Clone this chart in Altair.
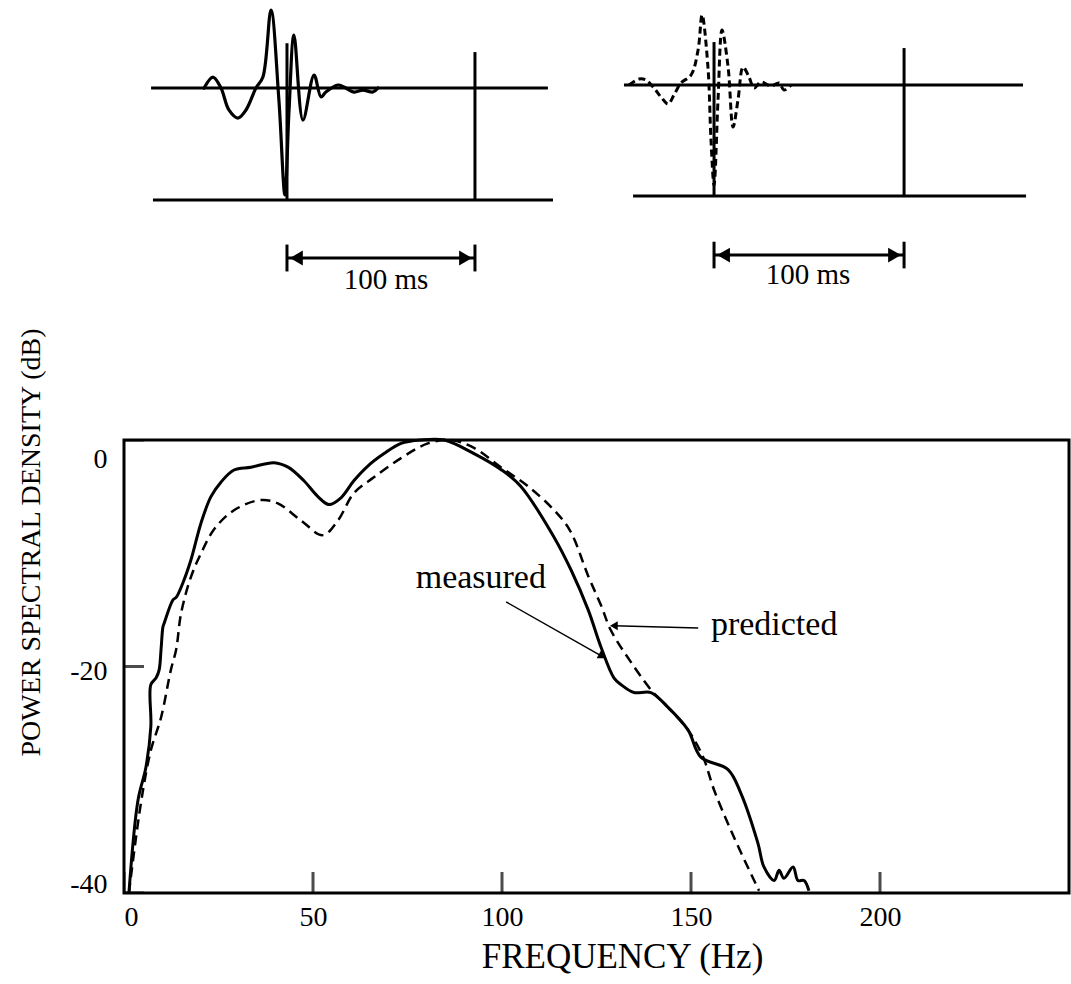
import altair as alt
import pandas as pd

FONT = "Liberation Serif"

# ---------------- main spectrum (Hz, dB) ----------------
meas_hz = [1.3, 3.7, 5.8, 7.1, 7.1, 8.5, 9.3, 9.8, 10.3, 10.6, 13.0, 13.8, 15.6, 17.7,
           20.4, 23.0, 25.7, 29.1, 33.6, 39.7, 43.4, 47.6, 51.3, 54.2, 57.4, 60.8,
           64.5, 68.8, 73.3, 78.5, 84.7, 92.6, 99.7, 105.0, 113.8, 118.3, 122.8,
           126.2, 129.6, 131.5, 134.9, 139.4, 143.9, 149.2, 152.6, 159.8, 163.2,
           167.7, 169.3, 172.0, 173.3, 174.6, 177.0, 178.3, 179.9, 181.2]
meas_db = [-40.0, -31.8, -28.9, -25.3, -21.6, -21.0, -20.3, -18.5, -16.5, -16.2, -14.1,
           -13.9, -12.6, -10.6, -7.3, -5.0, -3.7, -2.65, -2.4, -2.0, -2.4, -3.6, -5.0,
           -5.7, -5.1, -3.6, -2.3, -1.2, -0.3, 0.0, 0.0, -1.2, -2.6, -4.1, -8.6, -11.5,
           -15.0, -18.3, -21.0, -21.6, -22.3, -22.3, -23.6, -25.6, -28.0, -29.1, -31.2,
           -35.6, -37.7, -38.9, -38.0, -38.7, -37.7, -38.9, -38.9, -39.8]

pred_hz = [1.3, 4.5, 7.1, 9.8, 12.4, 13.8, 15.1, 17.7, 20.4, 23.8, 29.1, 36.2, 40.7,
           46.8, 52.6, 56.6, 60.8, 66.1, 73.3, 80.4, 86.5, 92.6, 99.7, 106.9, 113.8,
           118.0, 122.8, 126.2, 128.8, 134.9, 140.0, 143.9, 149.2, 153.2, 156.1,
           161.4, 168.0]
pred_db = [-40.0, -32.0, -27.4, -24.5, -20.3, -18.5, -15.3, -12.1, -10.0, -7.9, -6.2,
           -5.3, -5.6, -7.1, -8.4, -7.1, -4.7, -3.3, -1.6, -0.3, 0.0, -0.7, -2.4, -4.1,
           -6.2, -8.0, -12.0, -14.6, -16.8, -20.0, -22.3, -23.6, -25.6, -28.0, -30.9,
           -35.1, -39.8]

x_ticks = [0, 50, 100, 150, 200]
y_ticks = [0, -20, -40]

ann_labels = ["measured", "predicted"]
ann_hz = [94.4, 172.0]
ann_db = [-12.2, -16.3]
# arrow from label toward curve
arr_hz = [101.1, 151.9]
arr_db = [-14.3, -16.6]
arr_hz2 = [126.5, 129.6]
arr_db2 = [-19.1, -16.4]

# ---------------- insets (time ms, normalised amplitude) ----------------
left_t = [-44.1, -39.4, -35.1, -30.9, -26.1, -21.8, -16.5, -12.8, -8.5, -4.3, -1.1, 1.1,
          3.7, 8.5, 14.4, 18.1, 20.7, 27.1, 30.3, 35.6, 40.4, 45.7, 48.4]
left_a = [0.0, 0.098, 0.0, -0.196, -0.268, -0.196, 0.0, 0.098, 0.696, -0.107, -0.955,
          -0.196, 0.473, -0.286, 0.116, -0.080, -0.036, 0.027, 0.009, -0.036, -0.018,
          -0.036, 0.0]

right_t = [-44.7, -39.5, -35.8, -31.6, -27.9, -24.2, -21.1, -17.4, -12.1, -8.4, -6.3,
           -3.2, -1.6, 0.0, 2.1, 4.2, 7.4, 10.0, 12.6, 15.3, 18.4, 21.1, 24.7, 30.0,
           34.2, 36.8, 40.5]
right_a = [0.0, 0.054, 0.045, -0.027, -0.108, -0.171, -0.090, 0.018, 0.090, 0.315, 0.631,
           0.162, -0.495, -0.901, -0.135, 0.495, 0.162, -0.378, -0.135, 0.162, 0.072,
           -0.027, 0.027, -0.009, 0.018, -0.045, 0.0]

left_hline_t = [-72.3, -71.3]
left_hline_t2 = [138.8, 141.5]
right_hline_t = [-47.4, -42.6]
right_hline_t2 = [162.6, 164.2]
hline_a = [0.0, -1.0]

marker_t = [0, 100]
left_marker_top = [0.40, 0.321]
right_marker_top = [0.387, 0.333]

scale_bar_label = "100 ms"

# ---------------- main chart ----------------
xs = alt.Scale(domain=[0, 250], nice=False, zero=False)
ys = alt.Scale(domain=[-40, 0], nice=False, zero=False)

x_enc = alt.X("f:Q", scale=xs, axis=alt.Axis(
    values=x_ticks, ticks=False, domain=False, grid=False, labelPadding=10,
    labelFontSize=28, labelFont=FONT, labelColor="black",
    title="FREQUENCY (Hz)", titleFontSize=35, titleFont=FONT, titleFontWeight="normal",
    titleColor="black", titlePadding=8, titleX=498))
y_enc = alt.Y("db:Q", scale=ys, axis=alt.Axis(
    values=y_ticks, ticks=False, domain=False, grid=False, labelPadding=17,
    labelFlush=True, labelOffset=5, labelExpr="'' + datum.value",
    labelFontSize=28, labelFont=FONT, labelColor="black",
    title="POWER SPECTRAL DENSITY (dB)", titleFontSize=28, titleFont=FONT,
    titleFontWeight="normal", titleColor="black", titleAngle=270, titleX=-93,
    titleY=102, titleAlign="center", titleBaseline="middle"))

meas_df = pd.DataFrame({"f": meas_hz, "db": meas_db, "o": range(len(meas_hz))})
pred_df = pd.DataFrame({"f": pred_hz, "db": pred_db, "o": range(len(pred_hz))})

meas_line = alt.Chart(meas_df).mark_line(color="black", strokeWidth=3,
                                         interpolate="catmull-rom",
                                         strokeJoin="round").encode(
    x=x_enc, y=y_enc, order="o:Q")
pred_line = alt.Chart(pred_df).mark_line(color="black", strokeWidth=2.5,
                                         interpolate="catmull-rom",
                                         strokeDash=[10, 6]).encode(
    x="f:Q", y="db:Q", order="o:Q")

ytick_df = pd.DataFrame({"f": [0] * len(y_ticks), "db": y_ticks})
xtick_df = pd.DataFrame({"f": x_ticks, "db": [-40] * len(x_ticks)})
yticks = alt.Chart(ytick_df).mark_tick(orient="horizontal", size=40, thickness=3,
                                       color="black", clip=True).encode(x="f:Q", y="db:Q")
xticks = alt.Chart(xtick_df).mark_tick(orient="vertical", size=42, thickness=3,
                                       color="black", clip=True).encode(x="f:Q", y="db:Q")

ann_df = pd.DataFrame({"f": ann_hz, "db": ann_db, "label": ann_labels})
ann_text = alt.Chart(ann_df).mark_text(font=FONT, fontSize=34, color="black").encode(
    x="f:Q", y="db:Q", text="label:N")
arr_df = pd.DataFrame({"f": arr_hz, "db": arr_db, "f2": arr_hz2, "db2": arr_db2})
arr_lines = alt.Chart(arr_df).mark_rule(color="black", strokeWidth=1.5).encode(
    x="f:Q", y="db:Q", x2="f2:Q", y2="db2:Q")
head1 = alt.Chart(arr_df.iloc[[0]]).mark_point(shape="triangle-right", angle=29,
                                               filled=True, size=80, color="black",
                                               opacity=1).encode(x="f2:Q", y="db2:Q")
head2 = alt.Chart(arr_df.iloc[[1]]).mark_point(shape="triangle-left", filled=True, size=80,
                                               color="black", opacity=1).encode(
    x="f2:Q", y="db2:Q")

main = alt.layer(meas_line, pred_line, yticks, xticks, arr_lines, head1, head2,
                 ann_text).properties(
    width=945, height=453,
    view=alt.ViewBackground(stroke="black", strokeWidth=3))

# ---------------- insets ----------------
def inset_layers(t, a, hline_t, hline_t2, marker_top, xdom, ydom, dashed, text_pos):
    sx = alt.Scale(domain=xdom, nice=False, zero=False)
    sy = alt.Scale(domain=ydom, nice=False, zero=False)
    X = lambda f: alt.X(f, scale=sx, axis=None)
    Y = lambda f: alt.Y(f, scale=sy, axis=None)
    wave_df = pd.DataFrame({"t": t, "a": a, "o": range(len(t))})
    line_kw = dict(color="black", strokeWidth=3.2 if not dashed else 3,
                   strokeCap="round", strokeJoin="round", interpolate="catmull-rom")
    if dashed:
        line_kw["strokeDash"] = [7, 4]
        line_kw["strokeCap"] = "butt"
    wave = alt.Chart(wave_df).mark_line(**line_kw).encode(
        x=X("t:Q"), y=Y("a:Q"), order="o:Q")
    h_df = pd.DataFrame({"t": hline_t, "t2": hline_t2, "a": hline_a})
    hl = alt.Chart(h_df).mark_rule(color="black", strokeWidth=3).encode(
        x=X("t:Q"), x2="t2:Q", y=Y("a:Q"))
    v_df = pd.DataFrame({"t": marker_t, "a": marker_top, "a2": [-1.0, -1.0]})
    vl = alt.Chart(v_df).mark_rule(color="black", strokeWidth=3).encode(
        x=X("t:Q"), y=Y("a:Q"), y2="a2:Q")
    bar_y = text_pos[2]
    bar_df = pd.DataFrame({"t": [marker_t[0]], "t2": [marker_t[1]], "a": [bar_y]})
    bar = alt.Chart(bar_df).mark_rule(color="black", strokeWidth=3).encode(
        x=X("t:Q"), x2="t2:Q", y=Y("a:Q"))
    end_df = pd.DataFrame({"t": marker_t, "a": [bar_y + 0.12] * 2, "a2": [bar_y - 0.12] * 2})
    ends = alt.Chart(end_df).mark_rule(color="black", strokeWidth=3).encode(
        x=X("t:Q"), y=Y("a:Q"), y2="a2:Q")
    hl_df = pd.DataFrame({"t": [marker_t[0] + 5], "a": [bar_y]})
    hr_df = pd.DataFrame({"t": [marker_t[1] - 5], "a": [bar_y]})
    hleft = alt.Chart(hl_df).mark_point(shape="triangle-left", filled=True, size=220,
                                        color="black", opacity=1).encode(
        x=X("t:Q"), y=Y("a:Q"))
    hright = alt.Chart(hr_df).mark_point(shape="triangle-right", filled=True, size=220,
                                         color="black", opacity=1).encode(
        x=X("t:Q"), y=Y("a:Q"))
    txt_df = pd.DataFrame({"t": [text_pos[0]], "a": [text_pos[1]], "label": [scale_bar_label]})
    txt = alt.Chart(txt_df).mark_text(font=FONT, fontSize=29, color="black").encode(
        x=X("t:Q"), y=Y("a:Q"), text="label:N")
    return [hl, vl, wave, bar, ends, hleft, hright, txt]

left_parts = inset_layers(left_t, left_a, left_hline_t, left_hline_t2, left_marker_top,
                          [-86.7, 416.0], [-1.893, 0.786], False, (52.7, -1.714, -1.518))
right_parts = inset_layers(right_t, right_a, right_hline_t, right_hline_t2, right_marker_top,
                           [-310.5, 186.8], [-1.937, 0.766], True, (49.5, -1.71, -1.532))

top = alt.layer(*(left_parts + right_parts)).resolve_scale(
    x="independent", y="independent").properties(width=945, height=300)

chart = alt.vconcat(top, main, spacing=140, bounds="flush").properties(
    padding={"left": 15, "top": 0, "right": 0, "bottom": 0},
    background="white",
).configure_view(strokeWidth=0)

chart.save("out.html", embed_options={"renderer": "svg", "actions": False})
